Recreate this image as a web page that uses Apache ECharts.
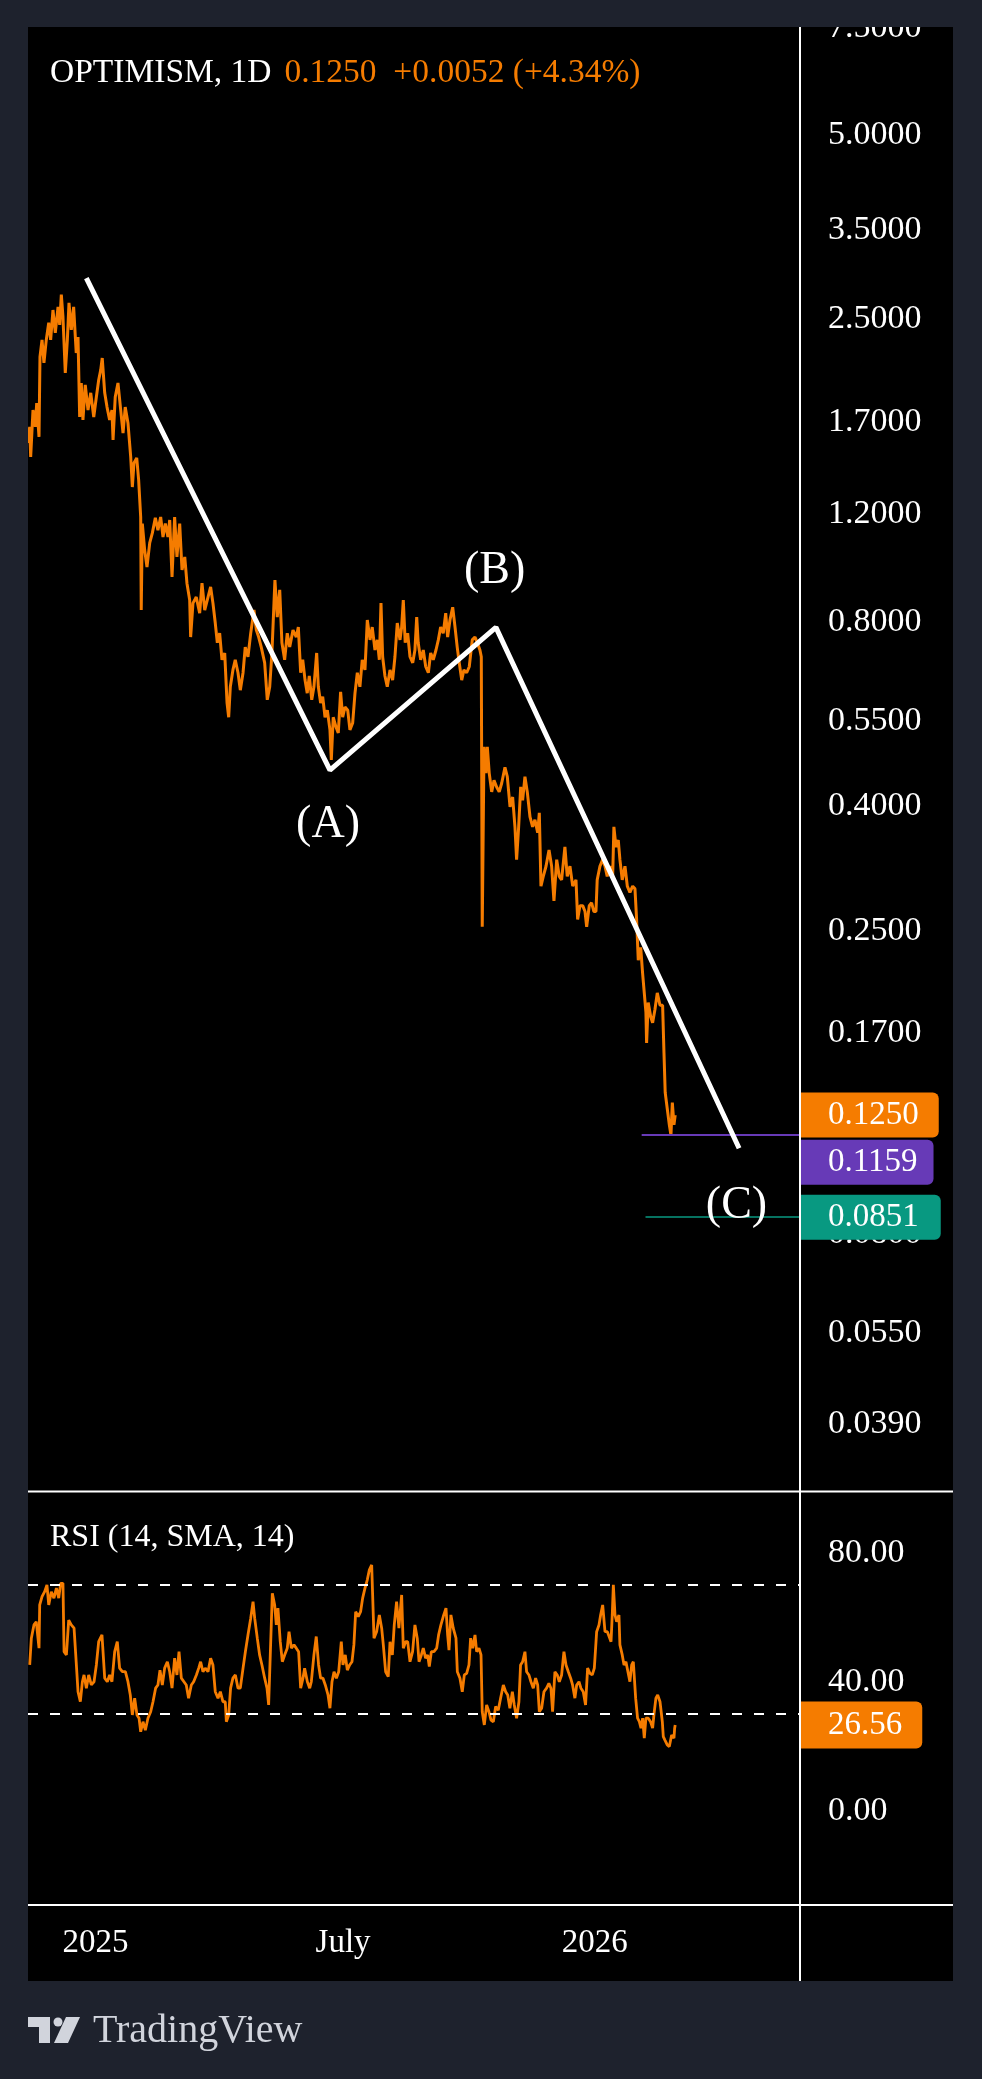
<!DOCTYPE html>
<html><head><meta charset="utf-8">
<script src="https://cdn.jsdelivr.net/npm/echarts@6/dist/echarts.min.js"></script>
<style>html,body{margin:0;padding:0;background:#1e222d;}#c{width:982px;height:2079px;}</style>
</head><body><div id="c"></div>
<script>
// ---------- DATA (days counted from 2025-01-01) ----------
const priceDays = [
-49.3,-48.0,-47.3,-45.6,-43.9,-42.9,-41.2,-40.5,-39.0,-37.6,
-35.9,-34.1,-32.7,-31.0,-29.3,-27.3,-26.1,-24.9,-23.7,-22.0,
-20.5,-19.3,-17.6,-15.9,-14.0,-12.7,-11.5,-10.3,-9.1,-7.4,
-5.4,-3.4,-1.2,0.7,2.4,3.9,5.0,6.8,8.5,10.4,
12.1,12.9,14.5,16.5,18.5,20.2,21.8,23.8,25.8,27.0,
28.2,30.2,31.6,33.1,33.5,34.3,36.0,37.7,39.7,41.6,
43.8,45.7,47.7,49.4,51.1,53.0,54.3,56.0,57.9,59.6,
61.6,63.3,65.3,66.9,68.9,69.6,71.3,73.7,76.2,77.9,
79.9,82.3,84.2,85.9,87.6,89.1,90.8,92.5,94.5,96.2,
97.4,98.6,100.5,102.2,104.2,105.9,107.9,109.5,111.5,113.5,
115.9,117.6,119.3,121.2,123.7,125.6,127.4,129.0,130.5,131.2,
132.9,134.7,136.3,138.3,140.2,142.0,144.4,146.8,148.3,150.0,
151.5,153.2,154.8,156.3,158.1,159.7,161.7,162.9,164.6,166.1,
167.8,169.5,171.4,172.4,173.8,175.8,177.5,179.2,180.7,182.4,
184.4,186.0,188.0,189.7,191.4,193.3,195.0,197.0,198.7,200.7,
202.3,204.3,206.0,207.5,208.7,209.9,211.6,213.3,215.3,217.2,
218.9,220.6,222.6,223.8,225.0,226.4,228.2,229.9,231.9,233.5,
234.8,235.9,237.7,239.6,241.4,243.3,245.0,246.9,248.9,250.6,
252.3,254.2,256.0,257.4,259.1,261.1,262.8,264.4,265.9,267.7,
269.3,271.3,273.2,275.4,277.4,279.1,281.0,282.0,282.7,284.0,
285.4,286.4,287.8,289.6,291.3,293.2,295.1,296.9,299.3,301.0,
303.0,304.9,306.6,307.8,309.3,310.8,312.2,313.9,315.6,317.6,
319.5,321.2,323.2,324.4,325.6,327.3,329.3,331.5,333.4,335.1,
337.1,339.0,340.7,343.1,344.8,346.8,348.8,351.2,352.4,354.1,
356.1,357.8,359.0,360.9,362.6,364.3,365.8,366.7,368.7,370.7,
372.4,374.0,376.0,378.0,378.9,380.4,382.1,383.3,385.0,387.0,
388.7,390.6,392.6,394.3,395.5,396.7,398.5,399.9,401.1,402.3,
402.8,404.0,405.8,407.2,408.9,410.6,412.6,414.5,415.5,416.4,
417.9,419.4,420.6,421.6,422.8,423.7];
const priceValues = [
1.570,1.668,1.490,1.777,1.668,1.825,1.606,2.170,2.314,2.122,
2.314,2.470,2.314,2.590,2.376,2.620,2.448,2.744,2.523,2.044,
2.314,2.660,2.403,2.620,2.203,2.340,1.731,1.968,1.712,1.954,
1.777,1.896,1.731,1.867,1.990,2.067,2.162,1.896,1.797,1.712,
1.777,1.588,1.867,1.968,1.777,1.630,1.797,1.693,1.490,1.330,
1.456,1.484,1.366,1.188,0.837,1.159,1.049,0.984,1.078,1.118,
1.184,1.131,1.188,1.102,1.159,1.102,1.175,0.948,1.188,1.022,
1.159,0.973,1.022,0.926,0.869,0.756,0.859,0.879,0.827,0.926,
0.837,0.879,0.913,0.859,0.797,0.740,0.767,0.694,0.712,0.590,
0.559,0.627,0.668,0.694,0.661,0.619,0.661,0.728,0.702,0.767,
0.837,0.776,0.756,0.728,0.686,0.597,0.627,0.712,0.859,0.937,
0.815,0.903,0.740,0.694,0.767,0.728,0.776,0.756,0.785,0.661,
0.694,0.643,0.612,0.653,0.597,0.627,0.712,0.627,0.590,0.604,
0.559,0.574,0.533,0.476,0.559,0.539,0.527,0.615,0.559,0.581,
0.574,0.533,0.547,0.612,0.661,0.627,0.694,0.668,0.806,0.748,
0.785,0.720,0.748,0.694,0.859,0.702,0.653,0.627,0.668,0.643,
0.702,0.797,0.748,0.785,0.869,0.740,0.767,0.702,0.686,0.720,
0.815,0.740,0.694,0.720,0.676,0.661,0.712,0.694,0.720,0.748,
0.785,0.767,0.827,0.756,0.806,0.846,0.785,0.728,0.686,0.643,
0.668,0.661,0.676,0.748,0.756,0.740,0.720,0.702,0.254,0.500,
0.453,0.500,0.453,0.422,0.441,0.430,0.422,0.436,0.463,0.447,
0.399,0.414,0.370,0.327,0.370,0.430,0.409,0.447,0.422,0.384,
0.370,0.380,0.362,0.390,0.296,0.307,0.319,0.339,0.319,0.280,
0.327,0.307,0.303,0.343,0.307,0.319,0.296,0.303,0.261,0.275,
0.275,0.269,0.254,0.275,0.278,0.269,0.269,0.303,0.319,0.327,
0.319,0.307,0.319,0.307,0.370,0.343,0.352,0.327,0.303,0.319,
0.296,0.289,0.296,0.293,0.261,0.224,0.235,0.213,0.198,0.184,
0.164,0.191,0.181,0.177,0.186,0.198,0.189,0.189,0.158,0.136,
0.128,0.1205,0.1159,0.131,0.1205,0.125];

const rsiDays = [
-48.0,-46.8,-44.9,-43.2,-41.2,-40.7,-39.0,-37.1,-35.4,-34.1,
-32.2,-30.3,-28.5,-26.8,-25.4,-23.7,-22.9,-21.2,-19.5,-17.6,
-15.6,-13.9,-12.7,-11.0,-9.5,-8.3,-6.6,-4.9,-3.0,-1.0,
0.7,2.4,4.8,6.8,8.7,10.4,12.1,14.1,16.0,17.7,
19.7,21.9,23.8,25.5,27.0,28.7,30.4,31.9,33.1,34.8,
36.5,38.4,40.4,42.1,44.0,45.7,47.2,48.9,50.6,52.6,
54.3,56.0,57.9,59.6,61.1,62.8,64.7,66.4,68.1,70.1,
71.8,73.8,75.5,76.9,78.6,80.3,82.3,84.2,85.9,87.6,
89.6,91.3,93.2,94.9,95.7,97.4,98.8,100.5,102.3,104.2,
105.9,107.9,109.6,111.5,113.5,115.2,116.4,118.3,120.0,121.7,
123.7,125.4,126.6,127.8,129.3,131.0,132.2,133.4,135.1,136.6,
138.3,140.2,141.5,143.2,145.1,146.8,148.5,150.0,151.7,152.9,
154.9,156.6,157.8,159.7,161.4,163.1,164.6,166.3,168.0,170.0,
171.4,172.9,174.4,176.1,177.8,179.7,180.9,182.6,184.1,185.8,
187.5,188.9,190.2,192.1,193.8,195.3,197.0,198.7,200.2,201.9,
202.6,203.6,205.5,207.5,209.2,210.4,212.1,214.0,215.3,217.0,
218.4,220.1,221.8,223.8,225.0,226.7,228.2,229.9,231.8,233.5,
235.2,236.5,238.2,239.6,241.3,242.8,244.0,245.5,247.4,249.4,
250.8,252.5,254.2,256.2,257.4,258.4,259.8,261.5,263.5,264.5,
266.4,268.1,269.6,271.3,273.0,274.2,275.7,277.4,278.6,280.3,
281.8,282.7,284.2,285.9,287.6,289.1,290.8,292.5,294.4,296.1,
298.1,299.8,301.3,302.9,304.7,306.1,307.8,309.5,310.7,312.2,
313.9,315.1,316.8,318.3,320.0,321.7,323.2,324.4,326.1,327.8,
329.7,331.4,332.9,334.1,335.8,337.5,339.0,340.7,342.4,343.9,
345.6,347.3,348.7,350.4,351.7,353.4,354.8,356.5,358.2,359.7,
361.4,363.1,364.6,366.3,368.0,369.2,370.7,372.4,374.1,375.5,
376.8,377.7,378.5,379.7,380.9,382.6,383.3,385.0,386.3,387.7,
388.9,390.6,391.9,393.1,394.8,396.2,397.5,398.7,399.9,401.1,
402.3,404.0,405.7,407.2,408.4,409.6,410.9,412.6,414.3,415.0,
416.2,417.9,419.4,420.6,421.1,422.8,423.3,423.7];
const rsiValues = [
45.2,53.5,57.6,58.6,50.4,63.8,66.4,67.9,70.0,63.8,
67.9,65.9,69.0,65.9,70.5,70.5,49.3,48.3,59.1,57.6,
56.6,45.2,36.9,33.8,40.0,42.1,38.0,42.1,39.0,40.0,
45.2,52.4,54.5,41.1,40.0,42.1,40.0,49.3,52.4,44.2,
43.1,43.1,40.0,35.9,29.7,34.9,29.7,28.7,24.5,27.6,
25.0,28.7,30.7,33.8,38.0,39.0,43.6,39.0,44.2,46.2,
43.1,38.0,47.3,42.1,49.3,41.1,40.0,39.0,34.9,39.0,
40.0,42.1,44.2,46.2,43.1,44.2,43.1,47.3,45.2,36.9,
34.9,36.9,33.8,33.8,27.6,29.7,38.0,41.1,42.1,38.0,
38.0,44.2,49.3,54.5,59.7,64.8,59.7,53.5,48.3,45.2,
41.1,38.0,32.8,48.3,67.4,63.8,57.6,62.8,52.4,46.2,
48.3,50.4,55.5,50.4,51.4,50.4,49.3,38.0,41.1,44.2,
40.0,38.0,40.0,48.3,54.0,45.2,41.1,41.1,39.0,35.9,
31.8,40.0,43.1,41.1,43.1,52.4,45.2,48.3,43.6,45.2,
46.2,51.4,61.7,60.2,61.7,65.9,69.0,71.6,74.7,76.2,
66.9,53.5,55.5,60.7,56.6,51.4,43.1,41.6,52.4,48.3,
57.6,64.8,56.6,66.9,50.4,52.4,52.4,46.2,49.3,57.6,
53.5,46.2,48.3,50.4,47.3,48.3,44.7,49.3,49.3,50.4,
54.5,57.6,60.2,62.8,54.5,49.8,60.7,56.6,53.5,43.1,
41.1,36.9,42.1,42.6,45.2,53.5,50.4,54.5,49.3,50.4,
48.3,30.7,26.6,32.8,30.7,28.1,27.6,32.3,31.2,34.9,
39.0,36.9,35.9,31.8,36.9,32.8,28.7,33.8,45.2,46.2,
49.3,43.1,42.1,40.0,38.0,41.1,39.0,30.7,31.8,36.9,
38.0,39.5,38.0,30.7,43.1,42.1,40.0,42.1,49.3,45.2,
43.1,41.1,39.0,34.9,39.0,40.0,38.0,36.9,32.8,44.2,
42.6,42.1,44.2,55.5,57.6,60.7,63.8,55.5,55.5,55.5,
52.4,60.7,70.0,60.7,58.6,60.7,51.4,48.3,45.2,46.2,
46.2,40.0,45.2,46.2,34.9,28.7,27.6,25.6,28.7,22.5,
28.7,28.7,27.6,25.6,30.7,34.9,35.9,33.8,27.6,23.0,
21.9,20.4,19.9,19.4,23.5,22.5,25.6,26.56];

const priceTicks = [7.5, 5, 3.5, 2.5, 1.7, 1.2, 0.8, 0.55, 0.4, 0.25, 0.17, 0.08, 0.055, 0.039];
const rsiTicks = [80, 40, 0];
const rsiBands = [70, 30];
const timeTicks = [0, 181, 365];
const timeTickLabels = ['2025', 'July', '2026'];

const waveDays = [-6.6, 171.4, 292.7, 470.4];
const wavePrices = [2.92, 0.458, 0.784, 0.1103];
const waveLabelNames = ['(A)', '(B)', '(C)'];
const waveLabelDays = [170.0, 291.8, 468.5];
const waveLabelPrices = [0.372, 0.970, 0.0889];

const lastPrice = 0.1250;
const levelPurple = 0.1159, levelPurpleStart = 399.2;
const levelTeal = 0.0851, levelTealStart = 402.0;
const lastRsi = 26.56;

// ---------- CHART ----------
const FONT = "'Liberation Serif', 'DejaVu Serif', serif";
const ORANGE = '#f57c00', FRAME = '#1e222d';
const X_MIN = -49.25, X_MAX = 514.9;
const P_LN_MIN = -3.4948, P_LN_MAX = 2.0172;
const R_MIN = -29.2, R_MAX = 98.8;
const ln = Math.log;
const HIDDEN_LINE = { color: 'rgba(0,0,0,0)', width: 1, type: 'solid' };

const n1 = Math.min(priceDays.length, priceValues.length);
const priceData = priceDays.slice(0, n1).map((d, i) => [d, ln(priceValues[i])]);
const n2 = Math.min(rsiDays.length, rsiValues.length);
const rsiData = rsiDays.slice(0, n2).map((d, i) => [d, rsiValues[i]]);
const waveData = waveDays.map((d, i) => [d, ln(wavePrices[i])]);
const waveLabelData = waveLabelNames.map((nm, i) => ({ name: nm, value: [waveLabelDays[i], ln(waveLabelPrices[i])] }));
const lastDay = priceDays[n1 - 1];
const lastRsiDay = rsiDays[n2 - 1];

function boxLabel(text, bg, padR, extra) {
  return Object.assign({
    show: true, position: 'end', distance: 0, formatter: text, color: '#fff', opacity: 1,
    backgroundColor: bg, fontFamily: FONT, fontSize: 33, lineHeight: 45,
    padding: [0, padR, 0, 28], borderRadius: [0, 6, 6, 0]
  }, extra || {});
}

const chart = echarts.init(document.getElementById('c'), null, { renderer: 'canvas' });
chart.setOption({
  backgroundColor: '#000',
  animation: false,
  textStyle: { fontFamily: FONT },
  title: [
    { left: 45, top: 51, text: '{w|OPTIMISM, 1D}{o|0.1250  +0.0052 (+4.34%)}',
      textStyle: { fontWeight: 'normal', rich: {
        w: { color: '#fff', fontSize: 33.5, fontFamily: FONT, fontWeight: 'normal', padding: [0, 13, 0, 0] },
        o: { color: ORANGE, fontSize: 33.5, fontFamily: FONT, fontWeight: 'normal' } } } },
    { left: 45, top: 1517, text: 'RSI (14, SMA, 14)',
      textStyle: { color: '#fff', fontSize: 32, fontFamily: FONT, fontWeight: 'normal' } }
  ],
  grid: [
    { left: 28, top: 27, width: 772, height: 1464 },
    { left: 28, top: 1492, width: 772, height: 413 }
  ],
  xAxis: [
    { gridIndex: 0, type: 'value', min: X_MIN, max: X_MAX, show: false },
    { gridIndex: 1, type: 'value', min: X_MIN, max: X_MAX,
      axisLine: { show: false }, axisTick: { show: false }, splitLine: { show: false },
      axisLabel: { customValues: timeTicks, formatter: v => {
          const k = timeTicks.findIndex(t => Math.abs(t - v) < 0.5); return k >= 0 ? timeTickLabels[k] : ''; },
        color: '#fff', fontSize: 33, fontFamily: FONT, margin: 22 } }
  ],
  yAxis: [
    { gridIndex: 0, type: 'value', position: 'right', min: P_LN_MIN, max: P_LN_MAX,
      axisLine: { show: false }, axisTick: { show: false }, splitLine: { show: false },
      axisLabel: { customValues: priceTicks.map(ln), formatter: v => Math.exp(v).toFixed(4),
        color: '#fff', fontSize: 34, fontFamily: FONT, margin: 28 } },
    { gridIndex: 1, type: 'value', position: 'right', min: R_MIN, max: R_MAX,
      axisLine: { show: false }, axisTick: { show: false }, splitLine: { show: false },
      axisLabel: { customValues: rsiTicks, formatter: v => Number(v).toFixed(2),
        color: '#fff', fontSize: 34, fontFamily: FONT, margin: 28 } }
  ],
  series: [
    { type: 'line', xAxisIndex: 0, yAxisIndex: 0, data: priceData, symbol: 'none', showSymbol: false,
      lineStyle: { color: ORANGE, width: 3 }, z: 3,
      markLine: { symbol: ['none', 'none'], silent: true, animation: false,
        data: [
          [{ coord: [lastDay, ln(lastPrice)], lineStyle: HIDDEN_LINE, label: boxLabel('0.1250', ORANGE, 20) },
           { coord: [X_MAX, ln(lastPrice)] }],
          [{ coord: [levelPurpleStart, ln(levelPurple)], lineStyle: { color: '#673ab7', width: 2, type: 'solid' },
             label: boxLabel('0.1159', '#673ab7', 16, { offset: [0, 27] }) },
           { coord: [X_MAX, ln(levelPurple)] }],
          [{ coord: [levelTealStart, ln(levelTeal)], lineStyle: { color: '#089981', width: 1.5, type: 'solid' },
             label: boxLabel('0.0851', '#089981', 22) },
           { coord: [X_MAX, ln(levelTeal)] }]
        ] } },
    { type: 'line', xAxisIndex: 0, yAxisIndex: 0, data: waveData, symbol: 'none',
      lineStyle: { color: '#fff', width: 5 }, z: 5 },
    { type: 'scatter', xAxisIndex: 0, yAxisIndex: 0, data: waveLabelData, symbolSize: 1,
      itemStyle: { color: 'rgba(0,0,0,0)', opacity: 1 }, z: 6,
      label: { show: true, position: 'inside', formatter: '{b}', color: '#fff', opacity: 1, fontSize: 46, fontFamily: FONT } },
    { type: 'line', xAxisIndex: 1, yAxisIndex: 1, data: rsiData, symbol: 'none', showSymbol: false,
      lineStyle: { color: ORANGE, width: 2.8 }, z: 3,
      markLine: { symbol: ['none', 'none'], silent: true, animation: false,
        data: rsiBands.map(b => ({ yAxis: b, lineStyle: { color: '#fff', width: 2, type: [10, 12], opacity: 1 }, label: { show: false } }))
          .concat([[{ coord: [lastRsiDay, lastRsi], lineStyle: HIDDEN_LINE, label: boxLabel('26.56', ORANGE, 20, { lineHeight: 47 }) },
                    { coord: [X_MAX, lastRsi] }]]) } }
  ],
  graphic: [
    { type: 'rect', shape: { x: 0, y: 0, width: 982, height: 27 }, style: { fill: FRAME }, z: 100, silent: true },
    { type: 'rect', shape: { x: 0, y: 0, width: 28, height: 2079 }, style: { fill: FRAME }, z: 100, silent: true },
    { type: 'rect', shape: { x: 953, y: 0, width: 29, height: 2079 }, style: { fill: FRAME }, z: 100, silent: true },
    { type: 'rect', shape: { x: 0, y: 1981, width: 982, height: 98 }, style: { fill: FRAME }, z: 100, silent: true },
    { type: 'line', shape: { x1: 800, y1: 27, x2: 800, y2: 1981 }, style: { stroke: '#fff', lineWidth: 2 }, z: 90, silent: true },
    { type: 'line', shape: { x1: 28, y1: 1491.5, x2: 953, y2: 1491.5 }, style: { stroke: '#fff', lineWidth: 2 }, z: 90, silent: true },
    { type: 'line', shape: { x1: 28, y1: 1905, x2: 953, y2: 1905 }, style: { stroke: '#fff', lineWidth: 2 }, z: 90, silent: true },
    { type: 'polygon', shape: { points: [[28, 2017], [50, 2017], [50, 2043], [39, 2043], [39, 2027], [28, 2027]] }, style: { fill: '#d1d4dc' }, z: 110 },
    { type: 'circle', shape: { cx: 58, cy: 2022, r: 4.5 }, style: { fill: '#d1d4dc' }, z: 110 },
    { type: 'polygon', shape: { points: [[66, 2017], [80, 2017], [68, 2043], [54, 2043]] }, style: { fill: '#d1d4dc' }, z: 110 },
    { type: 'text', x: 93, y: 2031, style: { text: 'TradingView', fill: '#d1d4dc', fontSize: 40, fontFamily: FONT, textVerticalAlign: 'middle', verticalAlign: 'middle' }, z: 110 }
  ]
});
</script>
</body></html>
